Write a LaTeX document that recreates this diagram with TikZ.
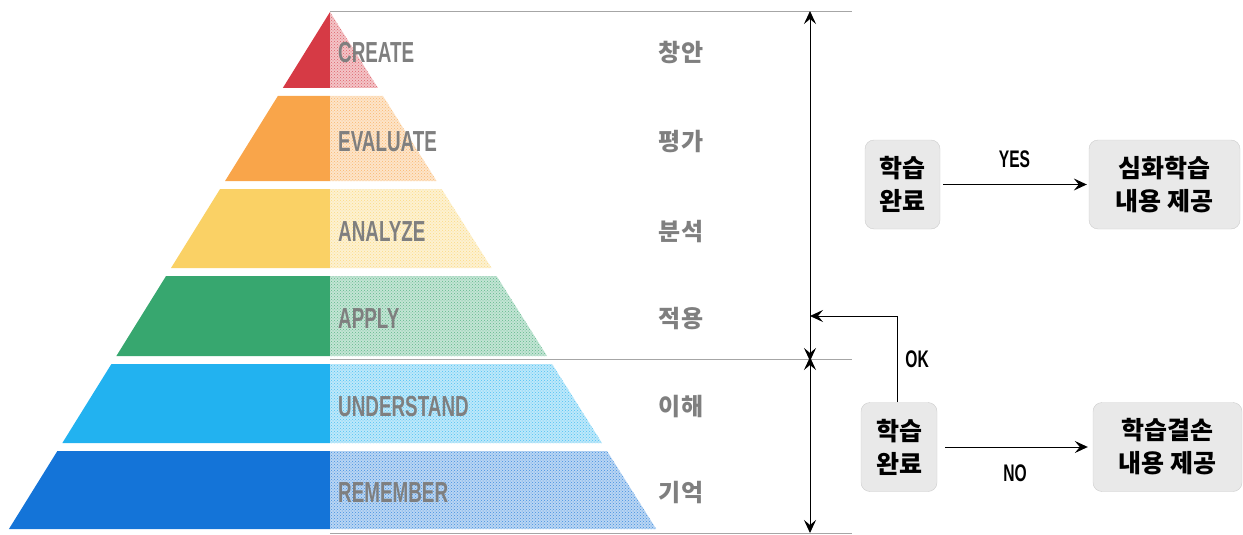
\documentclass[tikz,border=0pt]{standalone}
\usepackage{fontspec}
\setmainfont{Liberation Sans}
\newfontfamily\narrowfont[FakeStretch=0.65]{Liberation Sans}
\newfontfamily\kofont{Noto Sans CJK KR}
\usetikzlibrary{arrows.meta,patterns,positioning}

\definecolor{lvred}{HTML}{D63A45}
\definecolor{lvorange}{HTML}{F9A54A}
\definecolor{lvyellow}{HTML}{FAD165}
\definecolor{lvgreen}{HTML}{37A76F}
\definecolor{lvsky}{HTML}{22B2F0}
\definecolor{lvblue}{HTML}{1474D8}
\definecolor{labelgray}{HTML}{7F7F7F}

\tikzset{
  enlabel/.style={anchor=west,inner sep=0pt,text=labelgray,font=\narrowfont\bfseries\fontsize{29}{29}\selectfont},
  kolabel/.style={inner sep=0pt,text=labelgray,font=\kofont\bfseries\fontsize{24}{24}\selectfont},
  stepbox/.style={draw=gray!40,fill=gray!17,rounded corners=9pt,align=center,inner sep=0pt,
    minimum height=89pt,font=\kofont\bfseries\fontsize{25}{33}\selectfont},
  answer/.style={inner sep=0pt,font=\narrowfont\bfseries\fontsize{24}{24}\selectfont},
  arr/.style={-{Stealth[length=13pt,width=12pt,inset=5pt]},line width=0.9pt},
  both/.style={{Stealth[length=13pt,width=12pt,inset=5pt]}-{Stealth[length=13pt,width=12pt,inset=5pt]},line width=0.9pt},
  rule/.style={gray!70,line width=0.9pt}
}

\begin{document}
\begin{tikzpicture}[x=1pt,y=-1pt]
  \useasboundingbox (0,0) rectangle (1243,535);

  % pyramid, solid half and dotted half
  \foreach \yt/\yb/\c/\en/\ko [count=\i] in {12/88/lvred/CREATE/창안,
      96/181/lvorange/EVALUATE/평가, 189/268/lvyellow/ANALYZE/분석,
      276/356/lvgreen/APPLY/적용, 364/443/lvsky/UNDERSTAND/이해,
      451/529/lvblue/REMEMBER/기억}{
    \fill[\c] (330,\yt) -- ({330-0.621*(\yt-12)},\yt) -- ({330-0.621*(\yb-12)},\yb) -- (330,\yb) -- cycle;
    \fill[\c!30] (330,\yt) -- ({330+0.631*(\yt-12)},\yt) -- ({330+0.631*(\yb-12)},\yb) -- (330,\yb) -- cycle;
    \fill[pattern=crosshatch dots,pattern color=\c!80] (330,\yt) -- ({330+0.631*(\yt-12)},\yt) -- ({330+0.631*(\yb-12)},\yb) -- (330,\yb) -- cycle;
    \node[enlabel] (en\i) at (338,{(\yt+\yb)/2+3}) {\en};
    \node[kolabel] (ko\i) at (681,{(\yt+\yb)/2+3}) {\ko};
  }

  % level rules
  \coordinate (top) at (810,11);
  \coordinate (mid) at (810,359);
  \coordinate (bot) at (810,533);
  \draw[rule] (330,11) -- (852,11);
  \draw[rule] (330,359) -- (852,359);
  \draw[rule] (330,533) -- (852,533);
  \draw[both] (top) -- ([yshift=-2pt]mid);
  \draw[both] ([yshift=2pt]mid) -- (bot);

  % decision boxes
  \node[stepbox,minimum width=75pt] (done1) at (902.5,184.5) {학습\\완료};
  \node[stepbox,minimum width=151pt] (deep) at (1164.5,184.5) {심화학습\\내용 제공};
  \node[stepbox,minimum width=76pt] (done2) at (899,447) {학습\\완료};
  \node[stepbox,minimum width=149pt] (gap) at (1167.5,447) {학습결손\\내용 제공};
  \coordinate (back) at (810,316);

  \draw[arr,shorten <=3pt,shorten >=2pt] (done1) -- node[answer,above=16pt]{YES} (deep);
  \draw[arr,shorten <=8pt,shorten >=5pt] (done2) -- node[answer,below=17pt]{NO} (gap);
  \draw[arr] ([xshift=-2pt]done2.north) |- node[answer,pos=0.25,right=8pt]{OK} (back);
\end{tikzpicture}
\end{document}
